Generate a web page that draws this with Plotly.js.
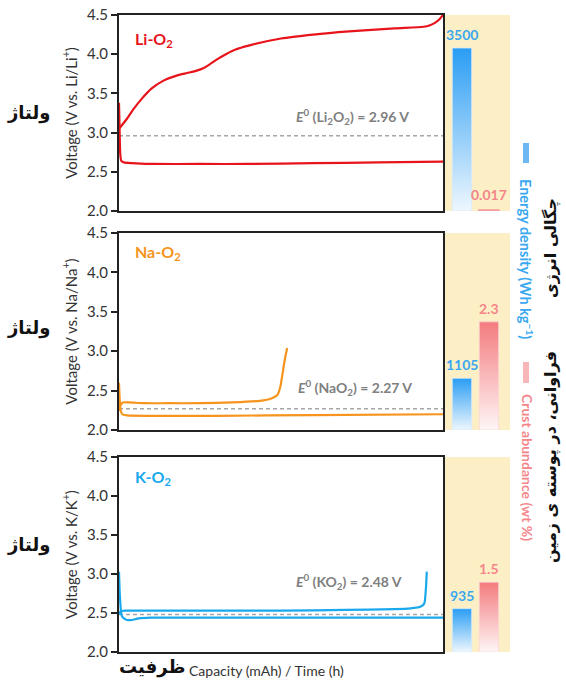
<!DOCTYPE html>
<html><head><meta charset="utf-8">
<script src="https://cdn.plot.ly/plotly-3.0.1.min.js"></script>
<style>html,body{margin:0;padding:0;background:#fff}</style>
</head><body><div id="chart" style="width:566px;height:682px"></div>
<script>
// ---------- DATA ----------
const systems = ["Li-O<sub>2</sub>", "Na-O<sub>2</sub>", "K-O<sub>2</sub>"];
const yTitles = ["Voltage (V vs. Li/Li<sup>+</sup>)", "Voltage (V vs. Na/Na<sup>+</sup>)", "Voltage (V vs. K/K<sup>+</sup>)"];
const e0Labels = ["<i>E</i><sup>0</sup> (Li<sub>2</sub>O<sub>2</sub>) = 2.96 V", "<i>E</i><sup>0</sup> (NaO<sub>2</sub>) = 2.27 V", "<i>E</i><sup>0</sup> (KO<sub>2</sub>) = 2.48 V"];
const e0Values = [2.96, 2.27, 2.48];

// capacity (% of full span) vs voltage
const liChargeX = [0, 1, 2.5, 4.3, 7, 10, 13.6, 18, 21, 24, 26, 28, 30.5, 33, 36, 40, 50, 60, 71, 85, 94, 96, 97.5, 99, 100];
const liChargeV = [3.05, 3.10, 3.18, 3.29, 3.43, 3.56, 3.66, 3.73, 3.76, 3.79, 3.82, 3.87, 3.94, 4.00, 4.06, 4.11, 4.20, 4.25, 4.29, 4.33, 4.35, 4.37, 4.40, 4.45, 4.50];
const liDischargeX = [0, 0.2, 0.4, 0.7, 1.5, 4, 10, 25, 40, 60, 80, 100];
const liDischargeV = [3.38, 3.00, 2.72, 2.64, 2.62, 2.61, 2.60, 2.60, 2.60, 2.61, 2.62, 2.63];

const naChargeX = [0, 0.4, 1.2, 3, 8, 15, 25, 35, 43.5, 47, 48.8, 49.8, 50.3, 50.8, 51.3, 51.9];
const naChargeV = [2.24, 2.31, 2.35, 2.35, 2.34, 2.34, 2.34, 2.35, 2.37, 2.40, 2.44, 2.55, 2.67, 2.80, 2.92, 3.04];
const naDischargeX = [0, 0.2, 0.5, 1, 2.5, 10, 30, 60, 100];
const naDischargeV = [2.60, 2.40, 2.25, 2.20, 2.185, 2.18, 2.18, 2.19, 2.20];

const kChargeX = [0, 0.5, 2, 10, 30, 50, 70, 85, 90, 93, 94.2, 94.7, 95];
const kChargeV = [2.48, 2.52, 2.53, 2.53, 2.53, 2.53, 2.54, 2.55, 2.56, 2.58, 2.62, 2.80, 3.03];
const kDischargeX = [0, 0.3, 0.8, 1.5, 2.5, 4, 6, 10, 30, 60, 100];
const kDischargeV = [3.03, 2.70, 2.47, 2.43, 2.41, 2.41, 2.43, 2.44, 2.44, 2.44, 2.44];

const energyDensity = [3500, 1105, 935];          // Wh kg^-1
const energyLabels = ["3500", "1105", "935"];
const crustAbundance = [0.017, 2.3, 1.5];          // wt %
const crustLabels = ["0.017", "2.3", "1.5"];

// ---------- STYLE ----------
const lineColors = ["#e8141c", "#f7941d", "#19a9ec"];
const curves = [
  [[liChargeX, liChargeV], [liDischargeX, liDischargeV]],
  [[naChargeX, naChargeV], [naDischargeX, naDischargeV]],
  [[kChargeX, kChargeV], [kDischargeX, kDischargeV]]
];
const W = 566, H = 682;
const rowsPx = [[15, 211], [233, 430], [457, 652]];
const lineXpx = [119, 443];
const barXpx = [445, 510];
const fx = p => p / W, fy = p => 1 - p / H;
const FONT = "Lato, 'Open Sans', sans-serif";
const FA = "'DejaVu Sans', 'Noto Sans', sans-serif";
const blueTop = "#2a9df4", blueBot = "#eef7fe", blueTxt = "#3aa8f0";
const redTop = "#f37b7e", redBot = "#fff6f6", redTxt = "#f4868a";
const beige = "#fcefc6";
const eMax = 4209, cMax = 4.19;
const barW = 0.72;

const traces = [], annotations = [], shapes = [];
const layout = {
  width: W, height: H, margin: {l: 0, r: 0, t: 0, b: 0},
  paper_bgcolor: "#ffffff", plot_bgcolor: "rgba(0,0,0,0)",
  showlegend: false, font: {family: FONT, color: "#333"}
};

function rect(c, v) {
  return {x: [c - barW / 2, c + barW / 2, c + barW / 2, c - barW / 2, c - barW / 2], y: [0, 0, v, v, 0]};
}

for (let i = 0; i < 3; i++) {
  const n = i + 1;
  const sfx = n === 1 ? "" : String(n);
  const dom = [fy(rowsPx[i][1]), fy(rowsPx[i][0])];
  // line axes
  layout["xaxis" + sfx] = {domain: [fx(lineXpx[0]), fx(lineXpx[1])], range: [0, 100], anchor: "y" + sfx,
    showticklabels: false, ticks: "", showgrid: false, zeroline: false,
    showline: true, mirror: true, linecolor: "#222", linewidth: 2};
  layout["yaxis" + sfx] = {domain: dom, range: [2, 4.5], dtick: 0.5, tick0: 2, tickformat: ".1f", anchor: "x" + sfx,
    ticks: "outside", ticklen: 6, tickwidth: 2, tickcolor: "#222", showgrid: false, zeroline: false,
    showline: true, mirror: true, linecolor: "#222", linewidth: 2,
    tickfont: {family: FONT, size: 15, color: "#333"},
    title: {text: yTitles[i], font: {family: FONT, size: 15, color: "#333"}, standoff: 6}};
  // E0 dashed
  traces.push({x: [0, 100], y: [e0Values[i], e0Values[i]], xaxis: "x" + sfx, yaxis: "y" + sfx,
    mode: "lines", line: {color: "#a6a6a6", width: 1.5, dash: "4px,3px"}, hoverinfo: "skip"});
  // curves
  curves[i].forEach(c => traces.push({x: c[0], y: c[1], xaxis: "x" + sfx, yaxis: "y" + sfx,
    mode: "lines", line: {color: lineColors[i], width: 2.2, shape: "spline", smoothing: 0.6}, hoverinfo: "skip"}));
  annotations.push({xref: "x" + sfx, yref: "y" + sfx, x: 4.3, y: [4.19, 4.25, 4.24][i], xanchor: "left", yanchor: "middle",
    text: "<b>" + systems[i] + "</b>", showarrow: false, font: {family: FONT, size: 16, color: lineColors[i]}});
  annotations.push({xref: "x" + sfx, yref: "y" + sfx, x: [72.2, 72.8, 71][i], y: [3.21, 2.545, 2.9][i],
    xanchor: "center", yanchor: "middle", text: "<b>" + e0Labels[i] + "</b>", showarrow: false,
    font: {family: FONT, size: 14, color: "#808080"}});
  annotations.push({xref: "paper", yref: "paper", x: fx(28), y: fy([113, 328, 545][i]), xanchor: "center", yanchor: "middle",
    text: "<b>ولتاژ</b>", showarrow: false, font: {family: FA, size: 18, color: "#111"}});

  // bar axes
  const bx = "x" + (n + 3), byE = "y" + (2 * n + 2), byC = "y" + (2 * n + 3);
  layout["xaxis" + (n + 3)] = {domain: [fx(barXpx[0]), fx(barXpx[1])], range: [-0.63, 1.78], anchor: byE, visible: false, fixedrange: true};
  layout["yaxis" + (2 * n + 2)] = {domain: dom, range: [0, eMax], anchor: bx, visible: false};
  layout["yaxis" + (2 * n + 3)] = {overlaying: byE, range: [0, cMax], anchor: bx, visible: false};
  shapes.push({type: "rect", xref: bx + " domain", yref: byE + " domain", x0: 0, x1: 1, y0: 0, y1: 1,
    fillcolor: beige, line: {width: 0}, layer: "below"});
  const rE = rect(0, energyDensity[i]);
  traces.push({x: rE.x, y: rE.y, xaxis: bx, yaxis: byE, mode: "lines", fill: "toself",
    fillgradient: {type: "vertical", colorscale: [[0, blueBot], [1, blueTop]]},
    line: {width: 0.8, color: "#d6eafb"}, hoverinfo: "skip"});
  const rC = rect(1, crustAbundance[i]);
  traces.push({x: rC.x, y: rC.y, xaxis: bx, yaxis: byC, mode: "lines", fill: "toself",
    fillgradient: {type: "vertical", colorscale: [[0, redBot], [1, redTop]]},
    line: {width: i === 0 ? 2 : 0.8, color: i === 0 ? "#f59a9c" : "#fbd6d7"}, hoverinfo: "skip"});
  annotations.push({xref: bx, yref: byE, x: 0, y: energyDensity[i], xanchor: "center", yanchor: "bottom", yshift: 3,
    text: "<b>" + energyLabels[i] + "</b>", showarrow: false, font: {family: FONT, size: 14, color: blueTxt}});
  annotations.push({xref: bx, yref: byC, x: 1, y: crustAbundance[i], xanchor: "center", yanchor: "bottom", yshift: i === 0 ? 5 : 3,
    text: "<b>" + crustLabels[i] + "</b>", showarrow: false, font: {family: FONT, size: 14, color: redTxt}});
}

// bottom x title
annotations.push({xref: "paper", yref: "paper", x: fx(152), y: fy(667), xanchor: "center", yanchor: "middle",
  text: "<b>ظرفیت</b>", showarrow: false, font: {family: FA, size: 18, color: "#111"}});
annotations.push({xref: "paper", yref: "paper", x: fx(187), y: fy(670), xanchor: "left", yanchor: "middle",
  text: "Capacity (mAh) / Time (h)", showarrow: false, font: {family: FONT, size: 14, color: "#333"}});

// right side legend texts
annotations.push({xref: "paper", yref: "paper", x: fx(527), y: fy(259), xanchor: "center", yanchor: "middle", textangle: 90,
  text: "<b>Energy density (Wh kg<sup>−1</sup>)</b>", showarrow: false, font: {family: FONT, size: 14.5, color: blueTxt}});
annotations.push({xref: "paper", yref: "paper", x: fx(527), y: fy(467), xanchor: "center", yanchor: "middle", textangle: 90,
  text: "<b>Crust abundance (wt %)</b>", showarrow: false, font: {family: FONT, size: 14, color: redTxt}});
annotations.push({xref: "paper", yref: "paper", x: fx(551), y: fy(248), xanchor: "center", yanchor: "middle", textangle: -90,
  text: "<b>چگالی انرژی</b>", showarrow: false, font: {family: FA, size: 16, color: "#111"}});
annotations.push({xref: "paper", yref: "paper", x: fx(551), y: fy(457), xanchor: "center", yanchor: "middle", textangle: -90,
  text: "<b>فراوانی، در پوسته ی زمین</b>", showarrow: false, font: {family: FA, size: 16, color: "#111"}});
shapes.push({type: "rect", xref: "paper", yref: "paper", x0: fx(523), x1: fx(529), y0: fy(163), y1: fy(143),
  fillcolor: "#6db8f3", line: {width: 0}});
shapes.push({type: "rect", xref: "paper", yref: "paper", x0: fx(523), x1: fx(529), y0: fy(383), y1: fy(362),
  fillcolor: "#f8b6b8", line: {width: 0}});

layout.annotations = annotations;
layout.shapes = shapes;
Plotly.newPlot("chart", traces, layout, {displayModeBar: false, staticPlot: true});
</script>
</body></html>
